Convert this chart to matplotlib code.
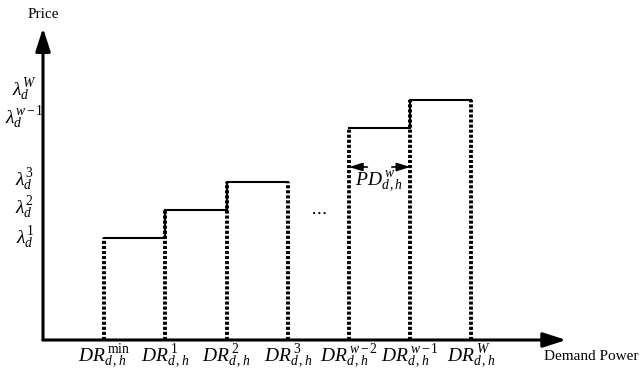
import matplotlib
matplotlib.use("Agg")
import matplotlib.pyplot as plt

plt.rcParams['font.family'] = ['Liberation Serif', 'DejaVu Serif']
plt.rcParams['mathtext.fontset'] = 'custom'
plt.rcParams['mathtext.rm'] = 'Liberation Serif'
plt.rcParams['mathtext.it'] = 'Liberation Serif:italic'

# block boundaries (demand power) and block prices
x_edges = [1, 2, 3, 4, 5, 6, 7]
x_labels = [r'$DR_{d\,,h}^{\,\min}$', r'$DR_{d\,,h}^{\,1}$', r'$DR_{d\,,h}^{\,2}$',
            r'$DR_{d\,,h}^{\,3}$', r'$DR_{d\,,h}^{\,w-2}$', r'$DR_{d\,,h}^{\,w-1}$',
            r'$DR_{d\,,h}^{\,W}$']
# steps drawn: (start, end, price)
step_start = [1, 2, 3, 5, 6]
step_end = [2, 3, 4, 6, 7]
step_price = [1.02, 1.30, 1.58, 2.12, 2.40]
y_levels = [2.50, 2.22, 1.60, 1.32, 1.02]
y_labels = [r'$\lambda_d^{W}$', r'$\lambda_d^{w-1}$', r'$\lambda_d^{3}$',
            r'$\lambda_d^{2}$', r'$\lambda_d^{1}$']

fig = plt.figure(figsize=(6.41, 3.78), dpi=100)
ax = fig.add_axes([0, 0, 1, 1])
ax.set_xlim(-43 / 61.2, (641 - 43) / 61.2)
ax.set_ylim(-0.38, 3.40)
ax.axis('off')

# axes arrows
ax.annotate('', xy=(8.55, 0), xytext=(0, 0),
            arrowprops=dict(arrowstyle='-|>,head_length=1.4,head_width=0.45',
                            lw=2.2, color='black', shrinkA=0, shrinkB=0))
ax.annotate('', xy=(0, 3.12), xytext=(0, 0),
            arrowprops=dict(arrowstyle='-|>,head_length=1.4,head_width=0.45',
                            lw=2.2, color='black', shrinkA=0, shrinkB=0))

# dotted boundaries
tops = {}
for s, e, p in zip(step_start, step_end, step_price):
    tops[s] = max(tops.get(s, 0), p)
    tops[e] = max(tops.get(e, 0), p)
for x in x_edges:
    ax.plot([x, x], [0, tops[x]], color='black', lw=2.8,
            linestyle=(0, (0.8, 0.5)), solid_capstyle='butt')

# steps
for s, e, p in zip(step_start, step_end, step_price):
    ax.plot([s, e], [p, p], color='black', lw=1.5)
# risers between adjacent steps
for i in range(len(step_start) - 1):
    if step_end[i] == step_start[i + 1]:
        ax.plot([step_end[i]] * 2, [step_price[i], step_price[i + 1]],
                color='black', lw=1.5)

for x, lab in zip(x_edges, x_labels):
    ax.text(x, -0.16, lab, ha='center', va='center', fontsize=14)
for y, lab in zip(y_levels, y_labels):
    ax.text(-0.30, y, lab, ha='center', va='center', fontsize=14)

ax.text(0, 3.25, 'Price', ha='center', va='center', fontsize=11)
ax.text(9.73, -0.16, 'Demand Power', ha='right', va='center', fontsize=11)
ax.text(4.5, 1.28, r'$\cdots$', ha='center', va='center', fontsize=13)

# width annotation
ax.annotate('', xy=(5, 1.73), xytext=(5.3, 1.73),
            arrowprops=dict(arrowstyle='-|>,head_length=0.8,head_width=0.25',
                            lw=1.2, color='black', shrinkA=0, shrinkB=0))
ax.annotate('', xy=(6, 1.73), xytext=(5.7, 1.73),
            arrowprops=dict(arrowstyle='-|>,head_length=0.8,head_width=0.25',
                            lw=1.2, color='black', shrinkA=0, shrinkB=0))
ax.text(5.5, 1.58, r'$PD_{d\,,h}^{\,w}$', ha='center', va='center', fontsize=14)

fig.savefig('out.png', dpi=100)
